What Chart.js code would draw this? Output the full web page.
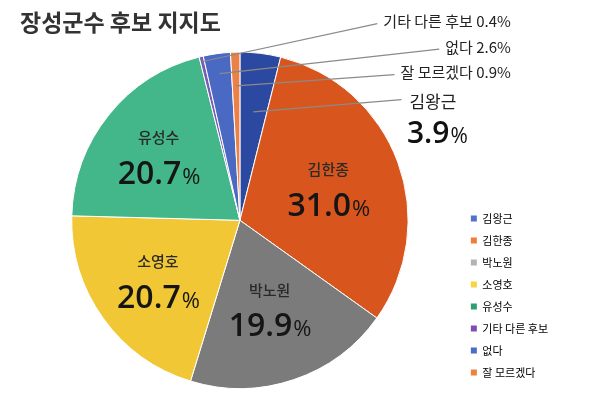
<!DOCTYPE html>
<html>
<head>
<meta charset="utf-8">
<script src="https://cdn.jsdelivr.net/npm/chart.js@4.4.1/dist/chart.umd.min.js"></script>
<style>
    html, body { margin: 0; padding: 0; background: #fff; }
    #wrap { width: 600px; height: 394px; }
</style>
</head>
<body>
<div id="wrap"><canvas id="grafica"></canvas></div>
<script type="text/javascript">

    // 후보 / 지지율(%)
    var candidates = ['김왕근', '김한종', '박노원', '소영호', '유성수', '기타 다른 후보', '없다', '잘 모르겠다'];
    var support = [3.9, 31.0, 19.9, 20.7, 20.7, 0.4, 2.6, 0.9];
    var sliceColors = ['#2c49a1', '#d8561d', '#7b7b7b', '#f1c735', '#43b78a', '#7a5cb6', '#4a69c3', '#e98148'];
    var legendColors = ['#5572c6', '#ee7f34', '#b3b3b3', '#f5d540', '#2f9f70', '#7e4fb3', '#4b6dc8', '#ee8238'];

    var FONT = '"Noto Sans CJK KR", "Noto Sans", sans-serif';
    var NUMFONT = '"Open Sans", "Noto Sans", sans-serif';

    // which slices get a label inside the pie, which get a leader line
    var insideIdx = [1, 2, 3, 4];
    var insideFrac = [0.56, 0.55, 0.6, 0.62];
    var outsideIdx = [5, 6, 7];

    function pointOnArc(arc, frac) {
        var p = arc.getProps(['x', 'y', 'startAngle', 'endAngle', 'outerRadius'], true);
        var a = (p.startAngle + p.endAngle) / 2;
        return { x: p.x + Math.cos(a) * p.outerRadius * frac, y: p.y + Math.sin(a) * p.outerRadius * frac };
    }

    function drawPct(ctx, value, x, y, big, small) {
        var num = value.toFixed(1);
        ctx.font = '600 ' + big + 'px ' + NUMFONT;
        var w1 = ctx.measureText(num).width;
        ctx.font = 'normal ' + small + 'px ' + NUMFONT;
        var w2 = ctx.measureText('%').width;
        var left = x - (w1 + w2) / 2;
        ctx.textAlign = 'left';
        ctx.textBaseline = 'alphabetic';
        ctx.font = '600 ' + big + 'px ' + NUMFONT;
        ctx.fillText(num, left, y + big * 0.36);
        ctx.font = 'normal ' + small + 'px ' + NUMFONT;
        ctx.fillText('%', left + w1 + 1, y + big * 0.36);
    }

    var labelsPlugin = {
        id: 'sliceLabels',
        afterDatasetsDraw: function (chart) {
            var ctx = chart.ctx;
            var arcs = chart.getDatasetMeta(0).data;
            var area = chart.chartArea;
            ctx.save();

            // labels inside the big slices
            insideIdx.forEach(function (i, k) {
                var c = pointOnArc(arcs[i], insideFrac[k]);
                ctx.fillStyle = '#2a2a2a';
                ctx.textAlign = 'center';
                ctx.textBaseline = 'middle';
                ctx.font = '500 15px ' + FONT;
                ctx.fillText(candidates[i], c.x, c.y - 18);
                ctx.fillStyle = '#151515';
                drawPct(ctx, support[i], c.x, c.y + 17, 32, 22);
            });

            // small slices: text at the upper right + leader line
            var anchorX = area.right + 51;
            var fracs = { 5: 0.97, 6: 0.88, 7: 0.8 };
            outsideIdx.forEach(function (i, k) {
                var ty = area.top - 30 + k * 25.5;
                var txt = candidates[i] + ' ' + support[i].toFixed(1) + '%';
                ctx.font = '15px ' + FONT;
                ctx.textAlign = 'right';
                ctx.textBaseline = 'middle';
                ctx.fillStyle = '#222';
                ctx.fillText(txt, anchorX, ty);
                var w = ctx.measureText(txt).width;
                var p = pointOnArc(arcs[i], fracs[i]);
                ctx.strokeStyle = '#8a8a8a';
                ctx.lineWidth = 1.2;
                ctx.beginPath();
                ctx.moveTo(anchorX - w - 6, ty + 2);
                ctx.lineTo(p.x, p.y);
                ctx.stroke();
            });

            // 김왕근 label with its own line
            var nx = area.right - 27, ny = area.top + 50;
            ctx.font = '17px ' + FONT;
            ctx.textAlign = 'center';
            ctx.textBaseline = 'middle';
            ctx.fillText(candidates[0], nx, ny);
            var w0 = ctx.measureText(candidates[0]).width;
            var p0 = pointOnArc(arcs[0], 0.65);
            ctx.beginPath();
            ctx.moveTo(nx - w0 / 2 - 8, ny - 2);
            ctx.lineTo(p0.x, p0.y);
            ctx.stroke();
            ctx.fillStyle = '#111';
            drawPct(ctx, support[0], nx + 4, ny + 31, 30, 21);

            ctx.restore();
        }
    };

    var canvas = document.getElementById('grafica');
    var context = canvas.getContext('2d');

    new Chart(context, {
        type: 'pie',
        data: {
            labels: candidates,
            datasets: [{
                data: support,
                backgroundColor: sliceColors,
                borderColor: '#ffffff',
                borderWidth: 1
            }]
        },
        options: {
            responsive: true,
            maintainAspectRatio: false,
            animation: false,
            layout: { padding: { left: 20, right: 42, bottom: 5 } },
            plugins: {
                title: {
                    display: true,
                    text: '장성군수 후보 지지도',
                    align: 'start',
                    color: '#333',
                    font: { size: 23, weight: 'bold', family: FONT },
                    padding: { top: 8, bottom: 16 }
                },
                legend: {
                    position: 'right',
                    align: 'end',
                    labels: {
                        boxWidth: 6,
                        boxHeight: 6,
                        padding: 11,
                        color: '#555',
                        font: { size: 11, family: FONT },
                        generateLabels: function () {
                            return candidates.map(function (c, i) {
                                return { text: c, fillStyle: legendColors[i], strokeStyle: legendColors[i], lineWidth: 0, hidden: false, index: i };
                            });
                        }
                    }
                },
                tooltip: { enabled: false }
            }
        },
        plugins: [labelsPlugin]
    });

</script>
</body>
</html>
